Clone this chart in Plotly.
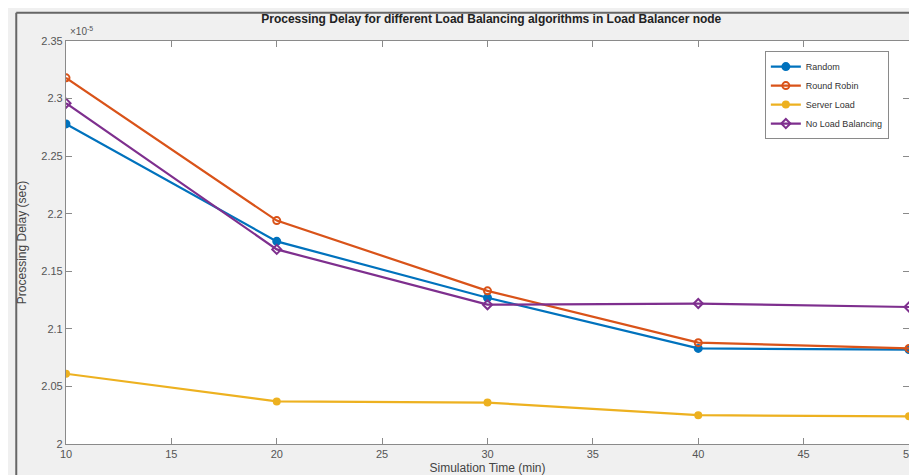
import plotly.graph_objects as go

# Simulation time (min)
sim_time = [10, 20, 30, 40, 50]
# Processing delay in units of 1e-5 sec
random_delay = [2.278, 2.176, 2.127, 2.083, 2.082]
round_robin_delay = [2.318, 2.194, 2.133, 2.088, 2.083]
server_load_delay = [2.061, 2.037, 2.036, 2.025, 2.024]
no_lb_delay = [2.296, 2.169, 2.121, 2.122, 2.119]

x_ticks = [10, 15, 20, 25, 30, 35, 40, 45, 50]
y_ticks = [2, 2.05, 2.1, 2.15, 2.2, 2.25, 2.3, 2.35]
y_tick_text = ["2", "2.05", "2.1", "2.15", "2.2", "2.25", "2.3", "2.35"]

series = [
    ("Random", random_delay, "#0072BD", "circle", 7),
    ("Round Robin", round_robin_delay, "#D95319", "circle-open", 7),
    ("Server Load", server_load_delay, "#EDB120", "circle", 6),
    ("No Load Balancing", no_lb_delay, "#7E2F8E", "diamond-open", 7),
]

fig = go.Figure()
for name, vals, color, sym, size in series:
    fig.add_trace(go.Scatter(
        x=sim_time, y=vals, name=name, mode="lines+markers",
        line=dict(color=color, width=2.2),
        marker=dict(symbol=sym, size=size, color=color,
                    line=dict(color=color, width=2)),
    ))

axis_common = dict(
    showline=True, linecolor="#8a8a8a", linewidth=1.2, mirror="ticks",
    ticks="inside", ticklen=6, tickcolor="#8a8a8a", showgrid=False,
    zeroline=False, tickfont=dict(family="Liberation Sans Narrow, Arial Narrow, Liberation Sans", size=11, color="#555555"),
)

fig.update_layout(
    width=917, height=475,
    paper_bgcolor="#f0f0f0", plot_bgcolor="white",
    margin=dict(l=58, r=10, t=33, b=38),
    title=dict(text="<b>Processing Delay for different Load Balancing algorithms in Load Balancer node</b>",
               x=0.527, xanchor="center", y=0.978, yanchor="middle", yref="container",
               font=dict(family="Liberation Sans", size=12, color="#222222")),
    xaxis=dict(range=[10, 50], tickvals=x_ticks, **axis_common,
               title=dict(text="Simulation Time (min)", standoff=4,
                          font=dict(family="Liberation Sans Narrow, Liberation Sans", size=12, color="#444444"))),
    yaxis=dict(range=[2, 2.35], tickvals=y_ticks, ticktext=y_tick_text, **axis_common,
               title=dict(text="Processing Delay (sec)", standoff=12,
                          font=dict(family="Liberation Sans Narrow, Liberation Sans", size=12, color="#444444"))),
    legend=dict(x=0.829, y=0.975, xanchor="left", yanchor="top",
                bgcolor="white", bordercolor="#8a8a8a", borderwidth=1,
                font=dict(family="Liberation Sans Narrow, Liberation Sans", size=9, color="#333333"),
                tracegroupgap=0, itemwidth=30),
    showlegend=True,
)

fig.add_annotation(text="\u00d710<sup>-5</sup>", xref="paper", yref="paper",
                   x=0.002, y=1.005, xanchor="left", yanchor="bottom", showarrow=False,
                   font=dict(family="Liberation Sans Narrow, Liberation Sans", size=10, color="#555555"))

# outer figure frame (top and left edges)
fig.add_shape(type="line", xref="paper", yref="paper", x0=-0.059, x1=1.02, y0=1.07, y1=1.07,
              line=dict(color="#666666", width=2))
fig.add_shape(type="line", xref="paper", yref="paper", x0=-0.059, x1=-0.059, y0=-0.2, y1=1.07,
              line=dict(color="#666666", width=2))

fig.write_html("out.html")
